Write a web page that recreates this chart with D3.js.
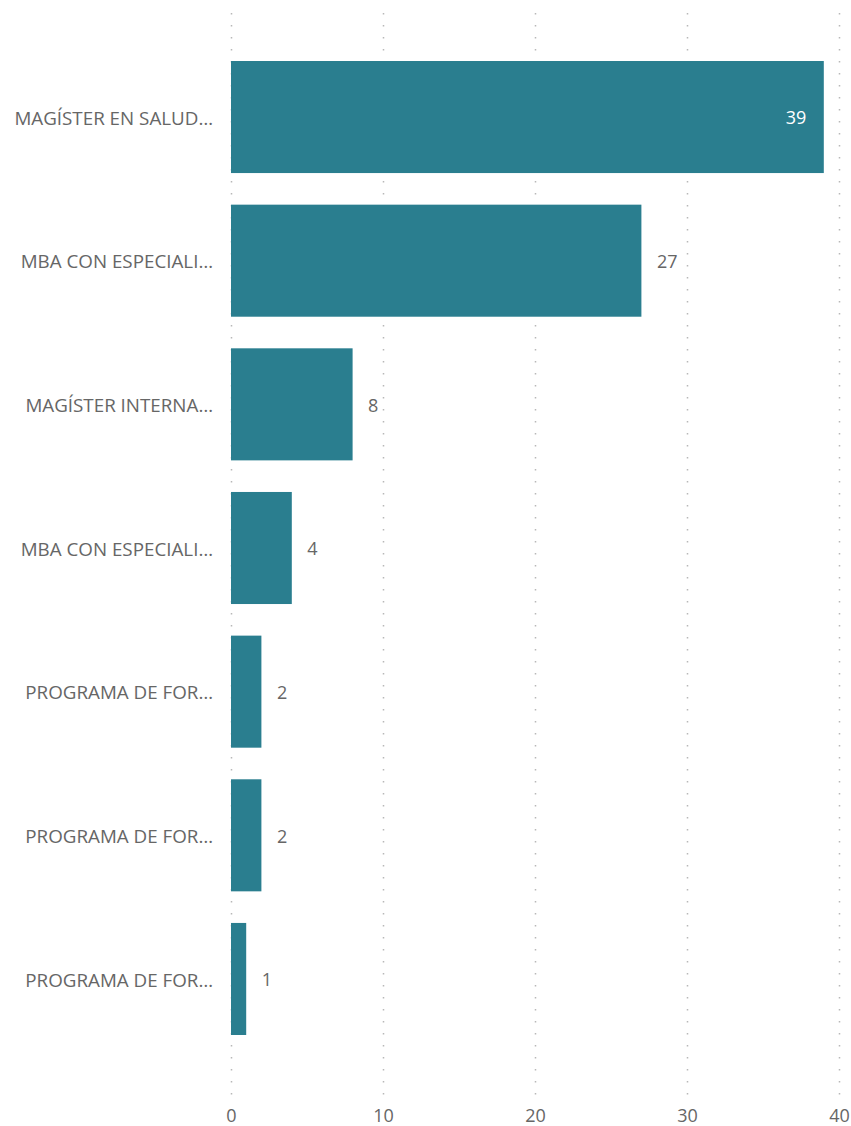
<!DOCTYPE html>
<html>
<head>
<meta charset="utf-8">
<script src="https://cdn.jsdelivr.net/npm/d3@7"></script>
<style>
  body { margin: 0; background: #fff; }
  text { font-family: "Open Sans", "Segoe UI", sans-serif; }
</style>
</head>
<body>
<svg id="chart"></svg>
<script>
// categories as shown (truncated in the original)
const programs = [
    "MAGÍSTER EN SALUD…",
    "MBA CON ESPECIALI…",
    "MAGÍSTER INTERNA…",
    "MBA CON ESPECIALI…",
    "PROGRAMA DE FOR…",
    "PROGRAMA DE FOR…",
    "PROGRAMA DE FOR…"
];
const counts = [39, 27, 8, 4, 2, 2, 1];
const xTicks = [0, 10, 20, 30, 40];

const width = 851, height = 1126;
const barColor = "#2a7e8f";
const textColor = "#666666";

const svg = d3.select("#chart")
    .attr("width", width)
    .attr("height", height);

const x = d3.scaleLinear().domain([0, 40]).range([231, 839]);
const y = d3.scaleBand()
    .domain(d3.range(programs.length))
    .range([45.2, 1050.8])
    .paddingInner(0.22)
    .paddingOuter(0.11);

// dotted gridlines
svg.append("g")
    .selectAll("line")
    .data(xTicks)
    .join("line")
    .attr("x1", d => Math.round(x(d)) + 0.5)
    .attr("x2", d => Math.round(x(d)) + 0.5)
    .attr("y1", 13)
    .attr("y2", 1096)
    .attr("stroke", "#b8b8b8")
    .attr("stroke-width", 1.5)
    .attr("stroke-dasharray", "1.5,10.5");

// bars
svg.append("g")
    .selectAll("rect")
    .data(counts)
    .join("rect")
    .attr("x", x(0))
    .attr("y", (d, i) => y(i))
    .attr("width", d => x(d) - x(0))
    .attr("height", y.bandwidth())
    .attr("fill", barColor);

// category labels
svg.append("g")
    .selectAll("text")
    .data(programs)
    .join("text")
    .attr("x", 213)
    .attr("y", (d, i) => y(i) + y.bandwidth() / 2 + 1)
    .attr("dy", "0.35em")
    .attr("text-anchor", "end")
    .attr("fill", textColor)
    .style("font-size", "18.8px")
    .text(d => d);

// value labels (inside when the bar is long enough)
svg.append("g")
    .selectAll("text")
    .data(counts)
    .join("text")
    .attr("x", d => d >= 35 ? x(d) - 17.5 : x(d) + 15.5)
    .attr("y", (d, i) => y(i) + y.bandwidth() / 2 + 1)
    .attr("dy", "0.35em")
    .attr("text-anchor", d => d >= 35 ? "end" : "start")
    .attr("fill", d => d >= 35 ? "#ffffff" : textColor)
    .style("font-size", "18px")
    .text(d => d);

// x axis tick labels
const xAxis = d3.axisBottom(x).tickValues(xTicks).tickSize(0).tickPadding(0);
const gx = svg.append("g")
    .attr("transform", "translate(0,1109)")
    .call(xAxis);
gx.select(".domain").remove();
gx.selectAll("text")
    .attr("fill", textColor)
    .style("font-size", "18px")
    .style("font-family", "\"Open Sans\", sans-serif");
</script>
</body>
</html>
